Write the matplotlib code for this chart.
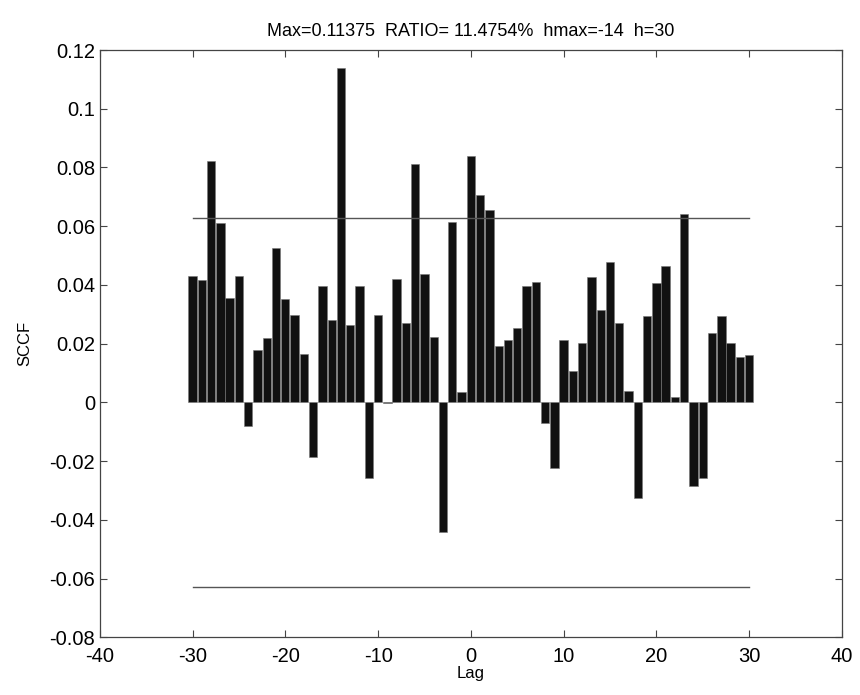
import numpy as np
import matplotlib
matplotlib.use("Agg")
import matplotlib.pyplot as plt
from matplotlib.ticker import FuncFormatter

plt.rcParams['font.family'] = ['Liberation Sans', 'DejaVu Sans']
plt.rcParams['axes.unicode_minus'] = False

# --- data ---
lags = np.arange(-30, 31)
sccf = [0.0430, 0.0417, 0.0823, 0.0611, 0.0354, 0.0430, -0.0080, 0.0179,
        0.0220, 0.0526, 0.0352, 0.0296, 0.0165, -0.0187, 0.0395, 0.0280,
        0.1140, 0.0262, 0.0395, -0.0256, 0.0299, -0.0003, 0.0420, 0.0272,
        0.0812, 0.0438, 0.0223, -0.0442, 0.0615, 0.0037, 0.0839, 0.0706,
        0.0654, 0.0193, 0.0211, 0.0255, 0.0397, 0.0410, -0.0071, -0.0225,
        0.0212, 0.0107, 0.0203, 0.0427, 0.0315, 0.0477, 0.0270, 0.0039,
        -0.0327, 0.0294, 0.0407, 0.0466, 0.0020, 0.0642, -0.0286, -0.0258,
        0.0236, 0.0294, 0.0201, 0.0156, 0.0160]
conf = 0.0628
title = "Max=0.11375  RATIO= 11.4754%  hmax=-14  h=30"

fig = plt.figure(figsize=(8.6, 6.95), dpi=100)
ax = fig.add_axes([0.116, 0.083, 0.863, 0.845])

ax.bar(lags, sccf, width=0.9, color='#111111', edgecolor='#777777', linewidth=0.4)
ax.plot([lags[0], lags[-1]], [conf, conf], color='#555555', linewidth=1.0)
ax.plot([lags[0], lags[-1]], [-conf, -conf], color='#555555', linewidth=1.0)

ax.set_xlim(-40, 40)
ax.set_ylim(-0.08, 0.12)
ax.set_xticks(np.arange(-40, 41, 10))
ax.set_yticks(np.arange(-0.08, 0.121, 0.02))
ax.yaxis.set_major_formatter(FuncFormatter(lambda v, p: "%g" % round(v, 4)))
ax.tick_params(direction='in', top=True, right=True, labelsize=14.5,
               length=5, width=0.8, color='#444444')
ax.tick_params(axis='x', pad=7)
for s in ax.spines.values():
    s.set_linewidth(0.9)
    s.set_color('#444444')

ax.set_xlabel("Lag", fontsize=12, labelpad=0)
ax.set_ylabel("SCCF", fontsize=12, labelpad=12)
ax.set_title(title, fontsize=13, pad=10)

fig.savefig("out.png", dpi=100)
